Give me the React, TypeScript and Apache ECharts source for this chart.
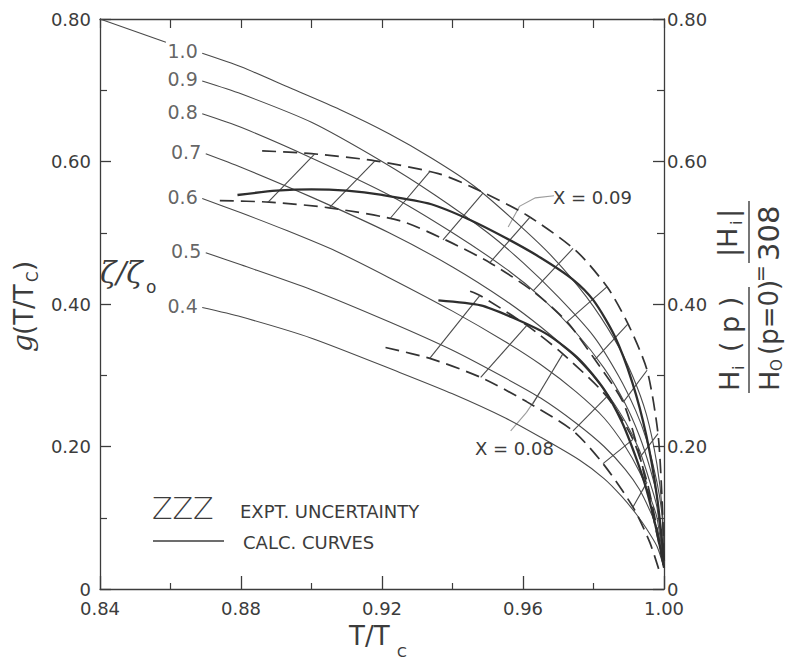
import React, { useEffect, useRef } from 'react';
import * as echarts from 'echarts';

const FONT = '"DejaVu Sans", "Liberation Sans", sans-serif';
const INK = '#3c3c3c';

// axis tick labels
const xTickLabels = ['0.84', '0.88', '0.92', '0.96', '1.00'];
const yTickLabels = ['0', '0.20', '0.40', '0.60', '0.80'];

// calculated curves, labelled by zeta/zeta0
const curveNames = ['1.0', '0.9', '0.8', '0.7', '0.6', '0.5', '0.4'];
const leader10 = [[0.84, 0.8], [0.8587, 0.7675]];
const curve10 = [[0.869, 0.752], [0.88, 0.733], [0.894, 0.703], [0.908, 0.673], [0.922, 0.639], [0.934, 0.605], [0.946, 0.566], [0.958, 0.515], [0.968, 0.468], [0.978, 0.41], [0.986, 0.35], [0.991, 0.3], [0.995, 0.245], [0.998, 0.175], [0.9995, 0.11], [1.0, 0.03]];
const curve09 = [[0.869, 0.713], [0.88, 0.695], [0.9, 0.655], [0.92, 0.6], [0.935, 0.553], [0.95, 0.5], [0.96, 0.458], [0.97, 0.41], [0.98, 0.355], [0.987, 0.3], [0.992, 0.25], [0.995, 0.21], [0.998, 0.15], [0.9995, 0.1], [1.0, 0.03]];
const curve08 = [[0.869, 0.667], [0.88, 0.648], [0.9, 0.605], [0.922, 0.553], [0.94, 0.5], [0.955, 0.45], [0.965, 0.41], [0.975, 0.36], [0.983, 0.31], [0.989, 0.26], [0.993, 0.215], [0.996, 0.17], [0.998, 0.13], [1.0, 0.03]];
const curve07 = [[0.87, 0.611], [0.88, 0.592], [0.9, 0.55], [0.922, 0.5], [0.94, 0.452], [0.955, 0.405], [0.965, 0.368], [0.975, 0.325], [0.983, 0.28], [0.989, 0.235], [0.993, 0.195], [0.996, 0.15], [0.998, 0.115], [1.0, 0.03]];
const curve06 = [[0.869, 0.548], [0.88, 0.528], [0.893, 0.503], [0.907, 0.474], [0.922, 0.437], [0.94, 0.39], [0.955, 0.347], [0.965, 0.315], [0.975, 0.277], [0.983, 0.24], [0.989, 0.2], [0.993, 0.165], [0.996, 0.13], [0.998, 0.1], [1.0, 0.03]];
const curve05 = [[0.87, 0.472], [0.88, 0.455], [0.9, 0.42], [0.922, 0.375], [0.94, 0.335], [0.955, 0.296], [0.965, 0.268], [0.975, 0.233], [0.983, 0.2], [0.989, 0.168], [0.993, 0.14], [0.996, 0.11], [0.998, 0.085], [1.0, 0.03]];
const curve04 = [[0.869, 0.395], [0.88, 0.382], [0.9, 0.352], [0.925, 0.304], [0.94, 0.274], [0.955, 0.24], [0.965, 0.213], [0.976, 0.181], [0.983, 0.155], [0.988, 0.13], [0.992, 0.106], [0.995, 0.085], [0.998, 0.06], [1.0, 0.03]];

// X = 0.09 : calculated (thick) curve and experimental band
const thick09 = [[0.879, 0.553], [0.89, 0.559], [0.9, 0.561], [0.91, 0.559], [0.92, 0.553], [0.934, 0.54], [0.945, 0.518], [0.955, 0.493], [0.965, 0.465], [0.974, 0.435], [0.98, 0.405], [0.986, 0.355], [0.991, 0.29], [0.995, 0.215], [0.998, 0.13], [1.0, 0.04]];
const upper09 = [[0.886, 0.615], [0.9, 0.611], [0.918, 0.601], [0.936, 0.583], [0.946, 0.563], [0.961, 0.525], [0.975, 0.475], [0.984, 0.423], [0.99, 0.37], [0.9952, 0.307], [0.9983, 0.218], [0.9995, 0.12], [1.0, 0.04]];
const lower09 = [[0.874, 0.545], [0.888, 0.543], [0.905, 0.535], [0.925, 0.517], [0.938, 0.49], [0.9506, 0.458], [0.9628, 0.418], [0.9725, 0.375], [0.9804, 0.322], [0.9884, 0.262], [0.9932, 0.185], [0.997, 0.1], [1.0, 0.03]];
const hatch09 = [
  [[0.8877, 0.543], [0.901, 0.611]],
  [[0.905, 0.535], [0.918, 0.601]],
  [[0.9223, 0.52], [0.9336, 0.586]],
  [[0.9373, 0.49], [0.9487, 0.556]],
  [[0.9506, 0.458], [0.962, 0.522]],
  [[0.9628, 0.418], [0.9742, 0.478]],
  [[0.9725, 0.375], [0.9838, 0.424]],
  [[0.9804, 0.322], [0.9898, 0.372]],
  [[0.9884, 0.262], [0.9952, 0.307]],
  [[0.9932, 0.185], [0.9983, 0.218]],
];

// X = 0.08
const thick08 = [[0.936, 0.405], [0.948, 0.398], [0.957, 0.381], [0.967, 0.357], [0.976, 0.322], [0.983, 0.28], [0.988, 0.235], [0.992, 0.185], [0.995, 0.14], [0.998, 0.08], [1.0, 0.03]];
const upper08 = [[0.945, 0.418], [0.9478, 0.412], [0.9611, 0.37], [0.9713, 0.33], [0.9838, 0.27], [0.9912, 0.21], [0.9952, 0.15], [0.998, 0.085], [1.0, 0.03]];
const lower08 = [[0.921, 0.339], [0.934, 0.323], [0.948, 0.297], [0.961, 0.263], [0.9742, 0.222], [0.9827, 0.176], [0.9912, 0.115], [0.996, 0.065], [0.999, 0.02]];
const hatch08 = [
  [[0.9336, 0.324], [0.9478, 0.412]],
  [[0.948, 0.297], [0.9611, 0.37]],
  [[0.9628, 0.26], [0.9713, 0.33]],
  [[0.9742, 0.222], [0.9838, 0.27]],
  [[0.9827, 0.176], [0.9912, 0.21]],
  [[0.9912, 0.115], [0.9952, 0.15]],
];

// annotation arrows
const arrow09 = [[0.9688, 0.552], [0.9635, 0.549], [0.959, 0.537], [0.9558, 0.508]];
const arrow08 = [[0.9565, 0.222], [0.961, 0.248], [0.9648, 0.276]];

function txt(text: string, x: number, y: number, size: number, align = 'left', extra: any = {}) {
  return {
    type: 'text',
    x,
    y,
    silent: true,
    z: 50,
    style: {
      text,
      fontSize: size,
      fontFamily: FONT,
      fill: INK,
      align,
      textAlign: align,
      verticalAlign: 'middle',
      textVerticalAlign: 'middle',
      ...extra,
    },
  };
}

function lineEl(x1: number, y1: number, x2: number, y2: number, w = 1.3) {
  return { type: 'line', silent: true, z: 50, shape: { x1, y1, x2, y2 }, style: { stroke: INK, lineWidth: w } };
}

export default function App() {
  const ref = useRef<HTMLDivElement>(null);
  useEffect(() => {
    if (!ref.current) return;
    const chart = echarts.init(ref.current, null, { renderer: 'svg' });

    const series: any[] = [];
    const thin = { color: '#4a4a4a', width: 1.1 };
    const thinCurves = [curve10, curve09, curve08, curve07, curve06, curve05, curve04];
    series.push({ type: 'line', data: leader10, showSymbol: false, lineStyle: thin, silent: true });
    thinCurves.forEach((d) => {
      series.push({ type: 'line', data: d, showSymbol: false, smooth: 0.25, lineStyle: thin, silent: true });
    });
    [thick09, thick08].forEach((d) => {
      series.push({ type: 'line', data: d, showSymbol: false, smooth: 0.25, lineStyle: { color: '#2e2e2e', width: 2.3 }, silent: true, z: 4 });
    });
    [upper09, lower09, upper08, lower08].forEach((d) => {
      series.push({ type: 'line', data: d, showSymbol: false, smooth: 0.25, lineStyle: { color: '#333', width: 1.7, type: [14, 7] }, silent: true, z: 3 });
    });
    [...hatch09, ...hatch08].forEach((d) => {
      series.push({ type: 'line', data: d, showSymbol: false, lineStyle: { color: '#4a4a4a', width: 1.1 }, silent: true });
    });
    series.push({
      type: 'lines',
      coordinateSystem: 'cartesian2d',
      polyline: true,
      silent: true,
      symbol: ['none', 'arrow'],
      symbolSize: 7,
      lineStyle: { color: '#3a3a3a', width: 1.1, curveness: 0 },
      data: [{ coords: arrow09 }, { coords: arrow08 }],
    });
    // curve labels
    const starts = thinCurves.map((c, i) => ({ value: c[0], name: curveNames[i] }));
    series.push({
      type: 'scatter',
      data: starts,
      symbolSize: 1,
      itemStyle: { color: 'rgba(0,0,0,0)' },
      silent: true,
      label: {
        show: true,
        position: 'left',
        distance: 4,
        formatter: '{b}',
        fontSize: 19,
        fontFamily: FONT,
        color: INK,
        offset: [0, -2],
      },
    });

    const axisCommon = {
      type: 'value',
      axisLine: { show: true, onZero: false, lineStyle: { color: INK, width: 1.3 } },
      splitLine: { show: false },
      minorSplitLine: { show: false },
    };

    const option: any = {
      animation: false,
      backgroundColor: '#ffffff',
      grid: { left: 100, right: 124, top: 19, bottom: 72, containLabel: false },
      xAxis: [
        {
          ...axisCommon,
          position: 'bottom',
          min: 0.84,
          max: 1.0,
          interval: 0.04,
          axisTick: { show: true, inside: true, length: 13, lineStyle: { color: INK, width: 1.3 } },
          minorTick: { show: true, splitNumber: 2, length: 6, lineStyle: { color: INK, width: 1.2 } },
          axisLabel: {
            margin: 10,
            fontSize: 18,
            fontFamily: FONT,
            color: INK,
            formatter: (v: number) => xTickLabels[Math.round((v - 0.84) / 0.04)] ?? '',
          },
        },
        {
          ...axisCommon,
          position: 'top',
          min: 0.84,
          max: 1.0,
          interval: 0.02,
          axisTick: { show: true, inside: true, length: 9, lineStyle: { color: INK, width: 1.2 } },
          axisLabel: { show: false },
        },
      ],
      yAxis: [
        {
          ...axisCommon,
          position: 'left',
          min: 0,
          max: 0.8,
          interval: 0.2,
          axisTick: { show: true, inside: true, length: 11, lineStyle: { color: INK, width: 1.3 } },
          minorTick: { show: true, splitNumber: 2, length: 7, lineStyle: { color: INK, width: 1.2 } },
          axisLabel: {
            margin: 9,
            fontSize: 18,
            fontFamily: FONT,
            color: INK,
            formatter: (v: number) => yTickLabels[Math.round(v / 0.2)] ?? '',
          },
        },
        {
          ...axisCommon,
          position: 'right',
          min: 0,
          max: 0.8,
          interval: 0.2,
          axisTick: { show: true, inside: true, length: 11, lineStyle: { color: INK, width: 1.3 } },
          minorTick: { show: true, splitNumber: 2, length: 7, lineStyle: { color: INK, width: 1.2 } },
          axisLabel: {
            margin: 3,
            fontSize: 18,
            fontFamily: FONT,
            color: INK,
            formatter: (v: number) => yTickLabels[Math.round(v / 0.2)] ?? '',
          },
        },
      ],
      series,
      graphic: [
        // X labels
        txt('X = 0.09', 553, 197, 18),
        txt('X = 0.08', 475, 448, 18),
        // zeta/zeta0
        txt('ζ/ζ', 100, 272, 30, 'left', { fontFamily: '"DejaVu Serif", serif', fontStyle: 'italic' }),
        txt('o', 146, 287, 17),
        // bottom title
        txt('T/T', 349, 636, 26),
        txt('C', 397, 652, 14),
        // legend
        txt('ZZZ', 152, 508, 30, 'left', { fontWeight: 'lighter' }),
        txt('EXPT. UNCERTAINTY', 240, 511, 18),
        lineEl(153, 541, 224, 541, 1.4),
        txt('CALC. CURVES', 243, 542, 18),
        // left title, rotated
        {
          type: 'group',
          x: 24,
          y: 302,
          rotation: Math.PI / 2,
          children: [
            txt('g', -50, -2, 28, 'left', { fontFamily: '"DejaVu Serif", serif', fontStyle: 'italic' }),
            txt('(T/T', -33, 0, 26),
            txt('C', 20, 9, 15),
            txt(')', 31, 0, 26),
          ],
        },
        // right title, rotated
        {
          type: 'group',
          x: 748,
          y: 296,
          rotation: Math.PI / 2,
          children: [
            txt('H', -95, -19, 27),
            txt('i', -74, -10, 16),
            txt('( p )', -56, -19, 27),
            lineEl(-97, 1, 9, 1, 1.4),
            txt('H', -95, 21, 27),
            txt('O', -75, 29, 15),
            txt('(p=0)', -59, 21, 26),
            txt('=', 14, 12, 20),
            txt('|H', 39, -21, 27),
            txt('i', 71, -12, 16),
            txt('|', 78, -21, 27),
            lineEl(33, 1, 95, 1, 1.4),
            txt('308', 35, 21, 29),
          ],
        },
      ],
    };

    chart.setOption(option);
    return () => chart.dispose();
  }, []);

  return <div ref={ref} style={{ position: 'absolute', left: 0, top: 0, width: 788, height: 661, background: '#fff' }} />;
}
